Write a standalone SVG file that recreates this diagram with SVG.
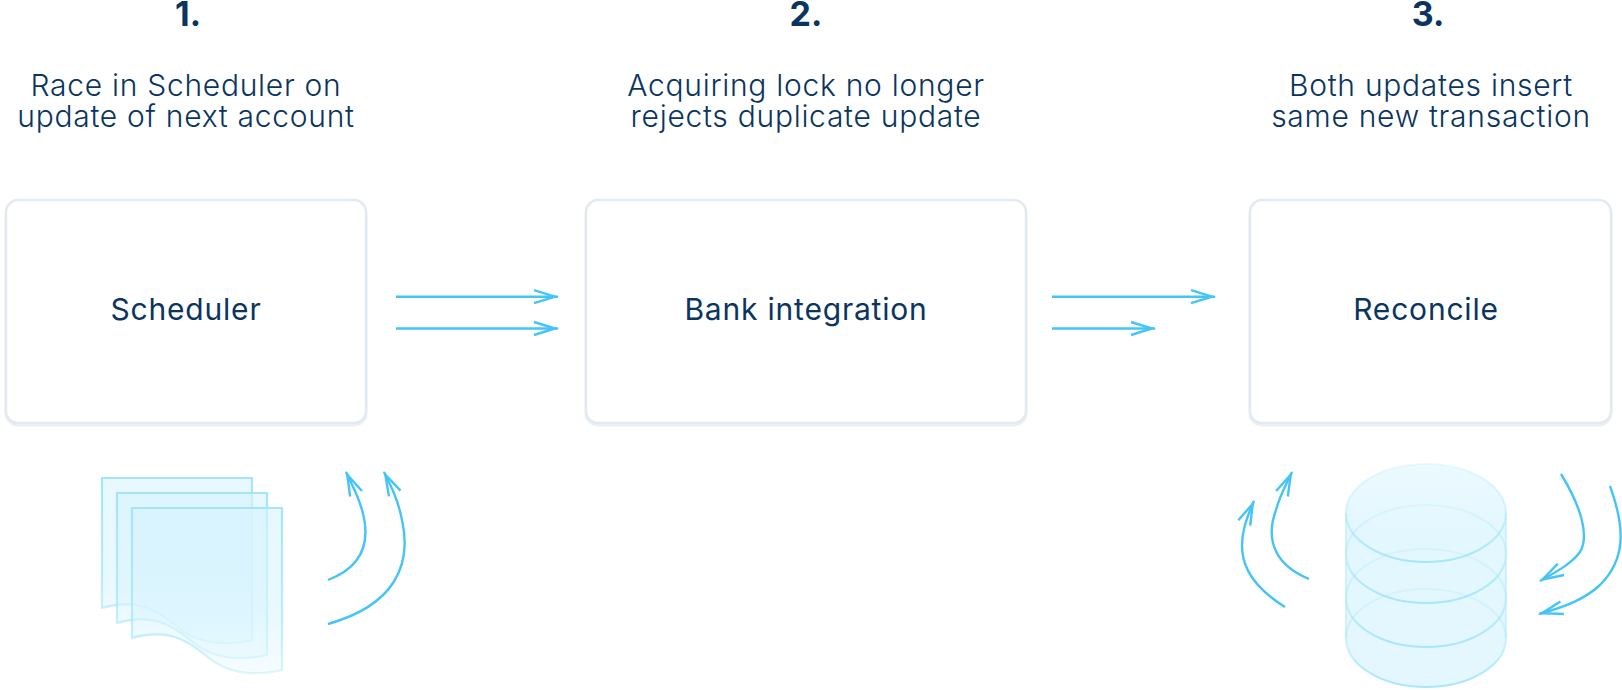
<svg xmlns="http://www.w3.org/2000/svg" width="1622" height="690" viewBox="0 0 1622 690">
<style>
text{font-family:"Inter","Liberation Sans",sans-serif;fill:#0a3560;text-anchor:middle;font-size:30px;font-weight:300;letter-spacing:.72px}
.num{font-size:34px;font-weight:700;letter-spacing:0}
.lbl{font-weight:400;letter-spacing:.8px}
.box{fill:#fff;stroke:#e3e9f1;stroke-width:2.5}
.sh{fill:none;stroke:#e3e9f1;stroke-width:3;opacity:.7}
.arr{fill:none;stroke:#45c4f9;stroke-width:2.4}
.page{fill:url(#pg);stroke:url(#ps);stroke-width:2.2}
.disk{fill:none;stroke:url(#ds);stroke-width:2.2}
</style>
<defs>
<linearGradient id="pg" x1="0" y1="0" x2="0" y2="1"><stop offset="0" stop-color="#d8f4ff" stop-opacity=".62"/><stop offset=".6" stop-color="#d8f4ff" stop-opacity=".58"/><stop offset="1" stop-color="#d8f4ff" stop-opacity=".25"/></linearGradient>
<linearGradient id="ps" x1="0" y1="0" x2="0" y2="1"><stop offset="0" stop-color="#9fe4fc" stop-opacity=".95"/><stop offset=".7" stop-color="#9fe4fc" stop-opacity=".65"/><stop offset="1" stop-color="#9fe4fc" stop-opacity=".35"/></linearGradient>
<linearGradient id="dk" x1="0" y1="0" x2="0" y2="1"><stop offset="0" stop-color="#ecfaff"/><stop offset=".3" stop-color="#e3f7fe"/><stop offset="1" stop-color="#e4f7fe"/></linearGradient>
<linearGradient id="ds" x1="0" y1="0" x2="0" y2="1"><stop offset="0" stop-color="#9fe4fc" stop-opacity=".2"/><stop offset=".5" stop-color="#9fe4fc" stop-opacity=".4"/><stop offset="1" stop-color="#9fe4fc" stop-opacity=".9"/></linearGradient>
<marker id="h" viewBox="-28 -8 30 16" refX="0" refY="0" markerWidth="30" markerHeight="16" markerUnits="userSpaceOnUse" orient="auto" overflow="visible"><path d="M-24-6.500-3 0-24 6.500" fill="none" stroke="#45c4f9" stroke-width="2.400"/></marker>
<path id="pagep" d="M0 130C16 125 34 125 48 131C58 135 64 140 72 146C82 155 100 166 125 165C135 165 143 164 150 162V0H0Z"/>
</defs>

<g id="step1">
<text class="num" x="188" y="26">1.</text>
<text x="186" y="96">Race in Scheduler on</text>
<text x="186" y="127">update of next account</text>
</g>
<g id="step2">
<text class="num" x="806" y="26">2.</text>
<text x="806" y="96">Acquiring lock no longer</text>
<text x="806" y="127">rejects duplicate update</text>
</g>
<g id="step3">
<text class="num" x="1428" y="26">3.</text>
<text x="1431" y="96">Both updates insert</text>
<text x="1431" y="127">same new transaction</text>
</g>

<g id="scheduler">
<rect class="sh" x="6" y="202" width="360" height="223" rx="12"/>
<rect class="box" x="6" y="200" width="360" height="223" rx="12"/>
<text class="lbl" x="186" y="320">Scheduler</text>
</g>
<g id="bank-integration">
<rect class="sh" x="586" y="202" width="440" height="223" rx="12"/>
<rect class="box" x="586" y="200" width="440" height="223" rx="12"/>
<text class="lbl" x="806" y="320">Bank integration</text>
</g>
<g id="reconcile">
<rect class="sh" x="1250" y="202" width="361" height="223" rx="12"/>
<rect class="box" x="1250" y="200" width="361" height="223" rx="12"/>
<text class="lbl" x="1426" y="320">Reconcile</text>
</g>

<g id="documents">
<use href="#pagep" class="page" transform="translate(102 478)"/>
<use href="#pagep" class="page" transform="translate(117 493)"/>
<use href="#pagep" class="page" transform="translate(132 508)"/>
</g>

<g id="database">
<path d="M1346 513A80 49 0 0 1 1506 513V638A80 49 0 0 1 1346 638Z" fill="url(#dk)"/>
<path d="M1346 513V638M1506 513V638" fill="none" stroke="#9fe4fc" stroke-opacity=".4" stroke-width="2"/>
<ellipse class="disk" cx="1426" cy="638" rx="80" ry="49"/>
<ellipse class="disk" cx="1426" cy="598" rx="80" ry="49"/>
<ellipse class="disk" cx="1426" cy="554" rx="80" ry="49"/>
<ellipse class="disk" cx="1426" cy="513" rx="80" ry="49"/>
</g>

<g id="connectors" class="arr">
<path marker-end="url(#h)" d="M396 296.700H558"/>
<path marker-end="url(#h)" d="M396 328.500H558"/>
<path marker-end="url(#h)" d="M1052 296.700H1215"/>
<path marker-end="url(#h)" d="M1052 328.500H1155"/>
<path marker-end="url(#h)" d="M328 580C360 568 372 545 362 510C358 495 352 485 346 472"/>
<path marker-end="url(#h)" d="M328 624C395 605 412 565 402 520C398 500 392 488 384 472"/>
<path marker-end="url(#h)" d="M1309 579C1275 565 1265 540 1276 510C1280 495 1286 485 1292 472"/>
<path marker-end="url(#h)" d="M1285 607C1250 585 1235 560 1245 525C1247 518 1250 510 1254 501"/>
<path marker-end="url(#h)" d="M1561 474C1580 505 1590 535 1580 552C1572 563 1558 571 1540 581"/>
<path marker-end="url(#h)" d="M1610 486C1626 530 1625 560 1600 585C1585 599 1565 607 1539 614"/>
</g>
</svg>
